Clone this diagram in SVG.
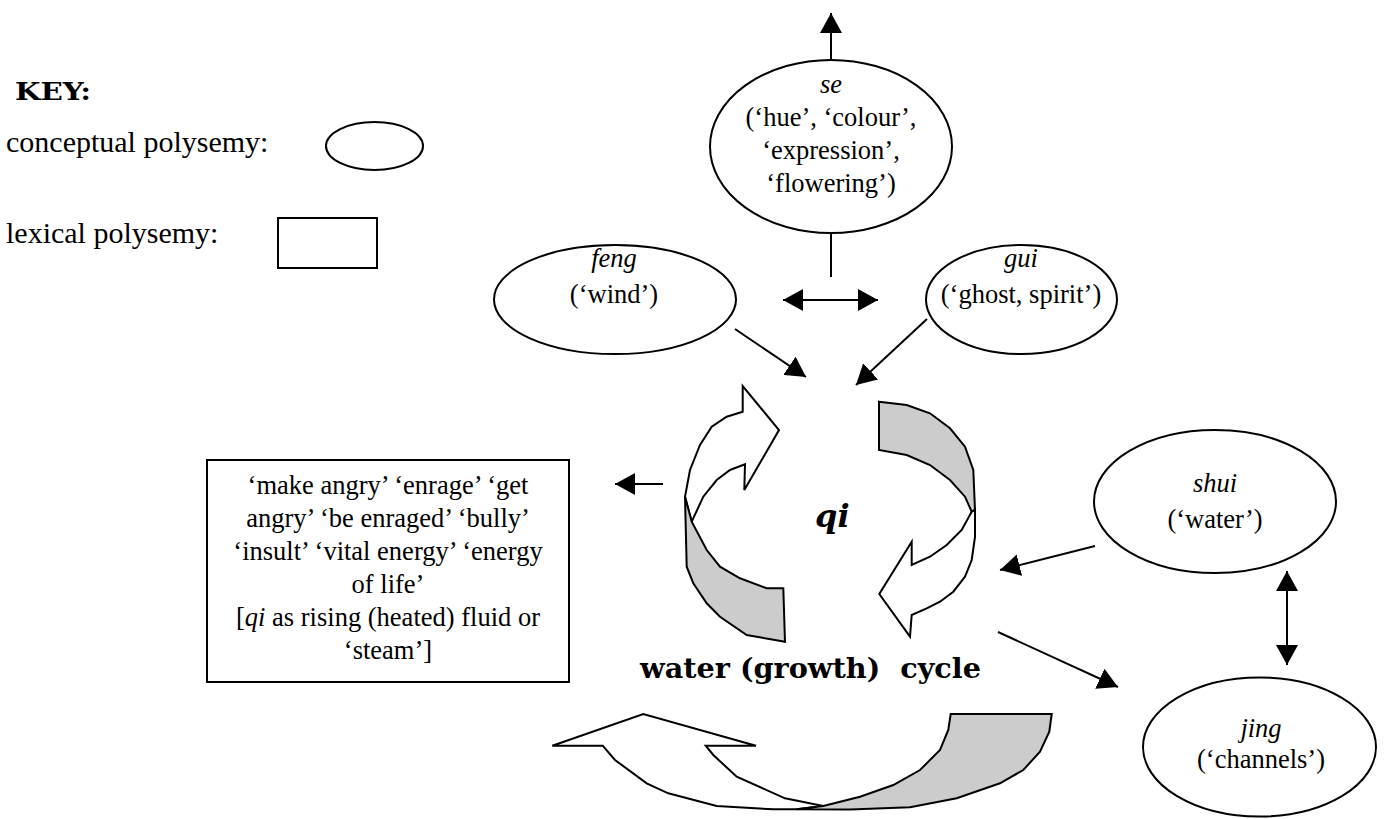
<svg xmlns="http://www.w3.org/2000/svg" width="1390" height="819" viewBox="0 0 1390 819">
<style>
text{font-family:"Liberation Serif","Times New Roman",serif;fill:#000}
.t{font-size:26.5px;text-anchor:middle}
.i{font-style:italic}
.k{font-size:30px}
.b{font-family:"DejaVu Serif",serif;font-weight:bold}
.sh{fill:#fff;stroke:#000;stroke-width:2}
.ln{stroke:#000;stroke-width:2;fill:none}
.g{fill:#cccccc;stroke:#000;stroke-width:2}
.w{fill:#fff;stroke:#000;stroke-width:2}
</style>
<defs>
<marker id="ah" markerUnits="userSpaceOnUse" markerWidth="22" markerHeight="22" refX="20" refY="11" orient="auto-start-reverse" viewBox="0 0 22 22">
<path d="M0,0 L20,11 L0,22 Z" fill="#000"/>
</marker>
</defs>
<rect width="1390" height="819" fill="#fff"/>

<g id="key">
<text class="b" x="15" y="100" font-size="24" textLength="76" lengthAdjust="spacingAndGlyphs">KEY:</text>
<text class="k" x="6" y="152">conceptual polysemy:</text>
<ellipse class="sh" cx="374.5" cy="146" rx="48.5" ry="24"/>
<text class="k" x="6" y="243">lexical polysemy:</text>
<rect class="sh" x="278" y="218" width="99" height="50"/>
</g>

<g id="node-se">
<ellipse class="sh" cx="831" cy="146.5" rx="121" ry="86.5"/>
<text class="t i" x="831" y="93">se</text>
<text class="t" x="831" y="126">(‘hue’, ‘colour’,</text>
<text class="t" x="831" y="159">‘expression’,</text>
<text class="t" x="831" y="192">‘flowering’)</text>
</g>

<g id="node-feng">
<ellipse class="sh" cx="615" cy="299.5" rx="121" ry="54.5"/>
<text class="t i" x="614" y="267">feng</text>
<text class="t" x="614" y="303">(‘wind’)</text>
</g>

<g id="node-gui">
<ellipse class="sh" cx="1021.5" cy="299.5" rx="95.5" ry="54.5"/>
<text class="t i" x="1021" y="267">gui</text>
<text class="t" x="1021" y="303">(‘ghost, spirit’)</text>
</g>

<g id="node-shui">
<ellipse class="sh" cx="1215" cy="501.5" rx="121" ry="71.5"/>
<text class="t i" x="1215" y="492">shui</text>
<text class="t" x="1215" y="528">(‘water’)</text>
</g>

<g id="node-jing">
<ellipse class="sh" cx="1259.5" cy="747" rx="116.5" ry="69.5"/>
<text class="t i" x="1261" y="737">jing</text>
<text class="t" x="1261" y="768">(‘channels’)</text>
</g>

<g id="node-box">
<rect class="sh" x="207" y="460" width="362" height="222"/>
<text class="t" x="388" y="494">‘make angry’ ‘enrage’ ‘get</text>
<text class="t" x="388" y="527">angry’ ‘be enraged’ ‘bully’</text>
<text class="t" x="388" y="560">‘insult’ ‘vital energy’ ‘energy</text>
<text class="t" x="388" y="593">of life’</text>
<text class="t" x="388" y="626">[<tspan font-style="italic">qi</tspan> as rising (heated) fluid or</text>
<text class="t" x="388" y="659">‘steam’]</text>
</g>

<g id="node-qi">
<polygon class="w" points="742.7,411.7 742.7,386 779,430 744.3,490 745,464.3 730,470 716.7,480 703.3,496.7 691.7,521.7 685,496.7 690,470 700,445 711.7,426.7 726.7,416.7"/>
<polygon class="g" points="685,496.7 686.7,566.7 693.3,583.3 706.7,603.3 720,616.7 746.7,635 785,641.7 783.3,588.3 766.7,588.3 740,578.3 720,566.7 706.7,550 691.7,521.7"/>
<polygon class="g" points="879,401.7 906.7,405 930,413.3 950,428.3 965,446.7 973.3,470 975,510 971.7,511.7 965,496.7 950,480 930,465 906.7,455 879,450"/>
<polygon class="w" points="975,510 975,537 971.7,560 965,576.7 953.3,591.7 940,601.7 926.7,608.3 911.7,615 910,636.7 879.3,594 911.7,541.7 911.7,565 930,556.7 946.7,545 961.7,530 971.7,511.7"/>
<text class="b" x="815" y="527" font-size="32" font-style="italic">qi</text>
<text class="b" x="640" y="678" font-size="28" textLength="341" lengthAdjust="spacingAndGlyphs" xml:space="preserve">water (growth)  cycle</text>
<polygon class="w" points="552.3,745.7 643.3,714 756,745.7 705.7,745.7 713.3,755 736.7,776.7 785,798.3 823.3,806 796.7,809.3 773.3,809.3 716.7,806 668.3,793.3 646.7,783.3 615,760 602.7,745.7"/>
<polygon class="g" points="950.7,714 1051.7,714 1049.3,731.7 1040,751.7 1023.3,770 1000,783.3 956.7,798.3 910,807.3 850,809.5 796.7,809.3 823.3,806 860,796.7 893.3,785 920,770 940,750 948.3,730"/>
</g>

<g id="connectors">
<line class="ln" x1="831" y1="60" x2="831" y2="13" marker-end="url(#ah)"/>
<line class="ln" x1="831" y1="233" x2="831" y2="277"/>
<line class="ln" x1="783" y1="300" x2="878" y2="300" marker-start="url(#ah)" marker-end="url(#ah)"/>
<line class="ln" x1="735" y1="329" x2="806" y2="377" marker-end="url(#ah)"/>
<line class="ln" x1="927" y1="319" x2="856" y2="385" marker-end="url(#ah)"/>
<line class="ln" x1="663" y1="484" x2="615" y2="484" marker-end="url(#ah)"/>
<line class="ln" x1="1095" y1="546" x2="1000" y2="570" marker-end="url(#ah)"/>
<line class="ln" x1="998" y1="632" x2="1118" y2="687" marker-end="url(#ah)"/>
<line class="ln" x1="1287" y1="571" x2="1287" y2="665" marker-start="url(#ah)" marker-end="url(#ah)"/>
</g>
</svg>
